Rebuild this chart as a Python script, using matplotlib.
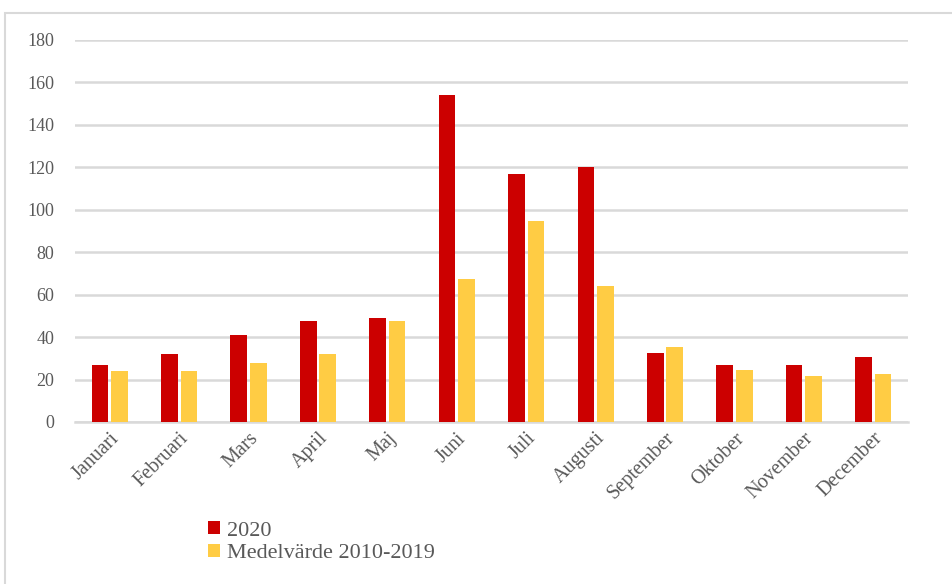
import numpy as np
import matplotlib
matplotlib.use('Agg')
import matplotlib.pyplot as plt
from matplotlib.patches import Rectangle

months = ['Januari', 'Februari', 'Mars', 'April', 'Maj', 'Juni', 'Juli',
          'Augusti', 'September', 'Oktober', 'November', 'December']
values_2020 = [27, 32, 41, 47.5, 49, 154, 117, 120, 32.5, 27, 27, 30.5]
values_avg = [24, 24, 28, 32, 47.5, 67.5, 94.5, 64, 35.5, 24.5, 21.5, 22.5]
yticks = [0, 20, 40, 60, 80, 100, 120, 140, 160, 180]

RED = '#CC0000'
YELLOW = '#FFCC44'
GRID = '#D9D9D9'
TEXT = '#595959'

plt.rcParams['font.family'] = ['Liberation Serif', 'DejaVu Serif']

fig = plt.figure(figsize=(9.52, 5.84), dpi=100)
ax = fig.add_axes([75 / 952, 1 - 422 / 584, 833 / 952, 382 / 584])

x = np.arange(len(months))
w = 0.24
ax.bar(x - 0.14, values_2020, w, color=RED, label='2020', zorder=3)
ax.bar(x + 0.14, values_avg, w, color=YELLOW, label='Medelvärde 2010-2019', zorder=3)

ax.set_xlim(-0.5, len(months) - 0.5)
ax.set_ylim(0, 180)
ax.set_yticks(yticks)
ax.set_xticks(x)
ax.set_xticklabels(months, rotation=45, ha='right', rotation_mode='anchor')
ax.grid(axis='y', color=GRID, linewidth=1.8, zorder=0)
for s in ['top', 'right', 'left']:
    ax.spines[s].set_visible(False)
ax.spines['bottom'].set_color(GRID)
ax.spines['bottom'].set_linewidth(1.8)
ax.tick_params(axis='both', length=0, colors=TEXT)
ax.tick_params(axis='y', pad=15, labelsize=13)
ax.tick_params(axis='x', pad=5, labelsize=14.5)

fig.legend(loc='upper left', bbox_to_anchor=(208 / 952, 1 - 521 / 584),
           frameon=False, fontsize=16, labelcolor=TEXT,
           handlelength=0.55, handleheight=0.55, handletextpad=0.3,
           labelspacing=0.15, borderaxespad=0, borderpad=0)

fig.patches.append(Rectangle((5 / 952, -0.05), 1.0, 1 - 13 / 584 + 0.05,
                             transform=fig.transFigure, fill=False,
                             edgecolor=GRID, linewidth=1.5))

fig.savefig('out.png', dpi=100)
